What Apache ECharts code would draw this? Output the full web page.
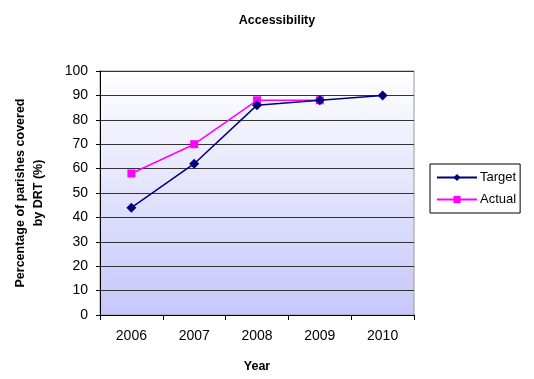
<!DOCTYPE html>
<html>
<head>
<meta charset="utf-8">
<script src="https://cdn.jsdelivr.net/npm/echarts@6/dist/echarts.min.js"></script>
<style>
  html, body { margin: 0; padding: 0; background: #fff; }
  #chart { width: 534px; height: 379px; }
</style>
</head>
<body>
<div id="chart"></div>
<script>
const years = ['2006', '2007', '2008', '2009', '2010']
const target = [44, 62, 86, 88, 90]
const actual = [58, 70, 88, 88, null]

const font = 'Liberation Sans, Arial, sans-serif'
const chart = echarts.init(document.getElementById('chart'))

chart.setOption({
  animation: false,
  textStyle: { fontFamily: font, color: '#000' },
  title: {
    text: 'Accessibility',
    left: 272, top: 9, textAlign: 'center',
    textStyle: { fontSize: 12.5, fontWeight: 'bold', color: '#000', fontFamily: font }
  },
  grid: {
    left: 100, right: 120, top: 71, bottom: 64,
    outerBoundsMode: 'none',
    containLabel: false,
    show: true,
    borderColor: '#999', borderWidth: 1,
    backgroundColor: {
      type: 'linear', x: 0, y: 0, x2: 0, y2: 1,
      colorStops: [
        { offset: 0, color: '#ffffff' },
        { offset: 1, color: '#c6c6fa' }
      ]
    }
  },
  legend: {
    left: 430, top: 164, width: 99, height: 55,
    orient: 'vertical',
    padding: [7, 4, 7, 6],
    itemGap: 9,
    itemWidth: 40, itemHeight: 9,
    borderColor: '#000', borderWidth: 1,
    textStyle: { fontSize: 13, color: '#000', fontFamily: font, padding: [0, 0, 0, -2] },
    data: ['Target', 'Actual']
  },
  xAxis: {
    type: 'category',
    data: years,
    boundaryGap: true,
    name: 'Year',
    nameLocation: 'middle',
    nameGap: 45,
    nameTextStyle: { fontSize: 12.5, fontWeight: 'bold', color: '#000', fontFamily: font },
    axisLine: { lineStyle: { color: '#000', width: 1 } },
    axisTick: { show: true, length: 5, lineStyle: { color: '#000' } },
    axisLabel: { fontSize: 14, color: '#000', margin: 14, fontFamily: font }
  },
  yAxis: {
    type: 'value',
    min: 0, max: 100, interval: 10,
    name: 'Percentage of parishes covered\nby DRT (%)',
    nameLocation: 'middle',
    nameRotate: 90,
    nameGap: 52,
    nameTextStyle: { fontSize: 12.5, fontWeight: 'bold', color: '#000', fontFamily: font, lineHeight: 18 },
    axisLine: { show: true, lineStyle: { color: '#000', width: 1 } },
    axisTick: { show: true, length: 4, lineStyle: { color: '#000' } },
    axisLabel: { fontSize: 14, color: '#000', margin: 12, fontFamily: font },
    splitLine: { show: true, lineStyle: { color: '#333', width: 1 } }
  },
  series: [
    {
      name: 'Target',
      type: 'line',
      data: target,
      symbol: 'diamond',
      symbolSize: 10,
      itemStyle: { color: '#000080' },
      lineStyle: { color: '#000080', width: 1.5 },
      z: 3
    },
    {
      name: 'Actual',
      type: 'line',
      data: actual,
      symbol: 'rect',
      symbolSize: 8,
      itemStyle: { color: '#ff00ff' },
      lineStyle: { color: '#ff00ff', width: 1.5 },
      z: 2
    }
  ]
})
</script>
</body>
</html>
